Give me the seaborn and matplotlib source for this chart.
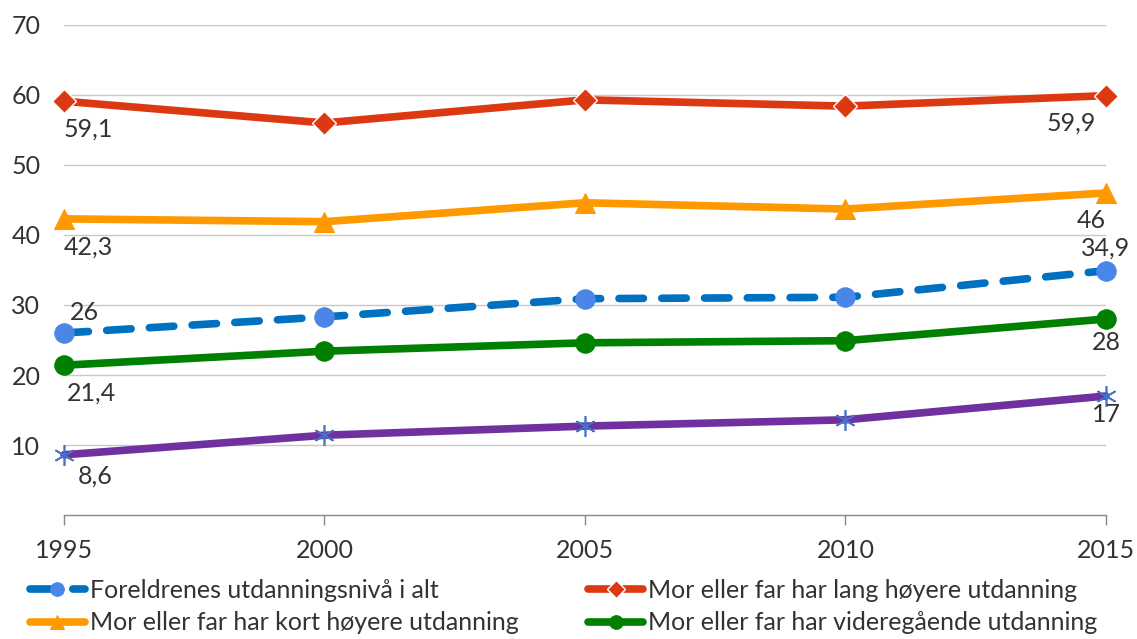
import matplotlib
matplotlib.use("Agg")
from matplotlib import pyplot as plt
import seaborn as sns
import pandas as pd

years = [1995, 2000, 2005, 2010, 2015]

alt = [26.0, 28.3, 30.9, 31.1, 34.9]
lang = [59.1, 56.0, 59.3, 58.4, 59.9]
kort = [42.3, 41.9, 44.6, 43.7, 46.0]
vgs = [21.4, 23.4, 24.6, 24.9, 28.0]
grunn = [8.6, 11.4, 12.7, 13.6, 17.0]

labels = [
    "Foreldrenes utdanningsnivå i alt",
    "Mor eller far har lang høyere utdanning",
    "Mor eller far har kort høyere utdanning",
    "Mor eller far har videregående utdanning",
    "Mor eller far har grunnskoleutdanning",
]

sns.set_style("white")
plt.rcParams["font.family"] = ["Lato", "DejaVu Sans"]
txt = "#333333"
fs = 18

fig = plt.figure(figsize=(11.37, 6.39), dpi=100)
ax = fig.add_axes([0.0563, 0.194, 0.9164, 0.767])

# style per series: colour, marker, marker colour, marker size, linestyle
styles = {
    labels[0]: dict(color="#0070c0", marker="o", mfc="#4a86e8", mec="#4a86e8", ms=14,
                    linestyle=(0, (3.2, 2.4)), dash_capstyle="round"),
    labels[1]: dict(color="#dc3912", marker="D", mfc="#dc3912", mec="white", ms=12.5, mew=1),
    labels[2]: dict(color="#ff9900", marker="^", mfc="#ff9900", mec="#ff9900", ms=14),
    labels[3]: dict(color="#008000", marker="o", mfc="#008000", mec="#008000", ms=14),
    labels[4]: dict(color="#7030a0", marker=(6, 2, 0), mfc="#4472c4", mec="#4472c4", ms=15, mew=1.2),
}
series = {labels[0]: alt, labels[1]: lang, labels[2]: kort, labels[3]: vgs, labels[4]: grunn}

for name in [labels[4], labels[3], labels[0], labels[2], labels[1]]:
    df = pd.DataFrame({"year": years, "value": series[name]})
    sns.lineplot(data=df, x="year", y="value", ax=ax, lw=5.5, label=name,
                 clip_on=False, zorder=3, **styles[name])

# end point labels (offsets in points)
def lab(x, y, s, dx, dy, ha):
    ax.annotate(s, (x, y), xytext=(dx, dy), textcoords="offset points",
                ha=ha, va="center", fontsize=fs, color=txt)

lab(1995, 59.1, "59,1", 0, -20, "left")
lab(1995, 42.3, "42,3", 0, -20, "left")
lab(1995, 26.0, "26", 4, 15, "left")
lab(1995, 21.4, "21,4", 2, -20, "left")
lab(1995, 8.6, "8,6", 10, -15, "left")
lab(2015, 59.9, "59,9", -7, -20, "right")
lab(2015, 46.0, "46", 0, -20, "right")
lab(2015, 34.9, "34,9", 0, 16, "center")
lab(2015, 28.0, "28", 0, -17, "center")
lab(2015, 17.0, "17", 0, -13, "center")

ax.set_xlim(1995, 2015)
ax.set_ylim(0, 70)
ax.set_xticks(years)
ax.set_yticks([10, 20, 30, 40, 50, 60, 70])
ax.yaxis.grid(True, color="#c8c8c8", lw=1)
ax.xaxis.grid(False)
ax.set_xlabel("")
ax.set_ylabel("")
for s in ["left", "right", "top"]:
    ax.spines[s].set_visible(False)
ax.spines["bottom"].set_color("#888888")
ax.spines["bottom"].set_linewidth(1)
ax.tick_params(axis="x", length=7, width=1, color="#888888", pad=10, labelsize=fs, labelcolor=txt, bottom=True)
ax.tick_params(axis="y", length=0, pad=17, labelsize=fs, labelcolor=txt)

# only the four entries that fit inside the picture
ax.get_legend().remove()
h, l = ax.get_legend_handles_labels()
order = [labels[0], labels[2], labels[1], labels[3]]
hd = dict(zip(l, h))
fig.legend([hd[k] for k in order], order, ncol=2, loc="upper left",
           bbox_to_anchor=(0.026, 0.094), frameon=False, fontsize=fs,
           handlelength=2.2, handletextpad=0.2, columnspacing=2.8,
           labelspacing=0.38, labelcolor=txt, borderaxespad=0, borderpad=0,
           markerscale=0.7)

fig.savefig("out.png", dpi=100)
